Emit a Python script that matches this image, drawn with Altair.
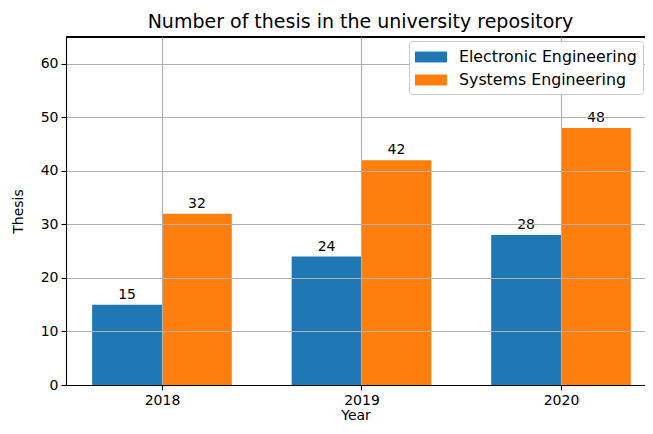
import json
import altair as alt
import pandas as pd

years = ["2018", "2019", "2020"]
programs = ["Electronic Engineering", "Systems Engineering"]
electronic = [15, 24, 28]
systems = [32, 42, 48]
colors = ["#1f77b4", "#ff7f0e"]
bar_w = 0.35

rows = []
for i, y in enumerate(years):
    rows.append({"year": y, "program": programs[0], "value": electronic[i],
                 "x0": i - bar_w, "x1": i, "xc": i - bar_w / 2, "base": 0})
    rows.append({"year": y, "program": programs[1], "value": systems[i],
                 "x0": i, "x1": i + bar_w, "xc": i + bar_w / 2, "base": 0})
df = pd.DataFrame(rows)

FONT = "DejaVu Sans"
W, H = 579, 348

xscale = alt.Scale(domain=[-0.481, 2.421], nice=False, zero=False)
yscale = alt.Scale(domain=[0, 65], nice=False)

label_expr = json.dumps(years) + "[datum.value]"

xaxis = alt.Axis(values=[0, 1, 2], labelExpr=label_expr, title="Year",
                 grid=True, zindex=1)
yaxis = alt.Axis(values=[0, 10, 20, 30, 40, 50, 60], title="Thesis",
                 grid=True, zindex=1)

legend = alt.Legend(
    title=None, orient="none", legendX=343, legendY=4, zindex=2,
    symbolType="M-1.6,-0.545L1.6,-0.545L1.6,0.545L-1.6,0.545Z", symbolSize=400,
    symbolOffset=6, symbolStrokeWidth=0, symbolOpacity=1,
    labelFontSize=15.8, labelFont=FONT, labelColor="#000000", labelLimit=400,
    fillColor="white", strokeColor="#cccccc", cornerRadius=3,
    padding=6, rowPadding=5, labelOffset=18,
)

bars = alt.Chart(df).mark_bar().encode(
    x=alt.X("x0:Q", scale=xscale, axis=xaxis),
    x2="x1:Q",
    y=alt.Y("value:Q", scale=yscale, axis=yaxis),
    y2="base:Q",
    color=alt.Color("program:N", scale=alt.Scale(domain=programs, range=colors),
                    legend=legend),
)

labels = alt.Chart(df).mark_text(
    baseline="bottom", dy=-3, fontSize=14, font=FONT, color="#000000"
).encode(
    x=alt.X("xc:Q", scale=xscale),
    y=alt.Y("value:Q", scale=yscale),
    text="value:Q",
)

top_spine = alt.Chart(df).mark_rule(color="#000000", strokeWidth=1.1).encode(
    x=alt.value(0), x2=alt.value(W), y=alt.value(0)
)

chart = alt.layer(bars, labels, top_spine).properties(
    width=W, height=H,
    title=alt.TitleParams("Number of thesis in the university repository",
                          fontSize=19, font=FONT, fontWeight="normal",
                          color="#000000", anchor="middle", frame="group",
                          dx=5, offset=4.5),
    autosize=alt.AutoSizeParams(type="none"),
    padding={"left": 58, "top": 29, "right": 0, "bottom": 37},
).configure_view(stroke=None).configure_axis(
    labelFont=FONT, labelFontSize=14, labelColor="#000000",
    titleFont=FONT, titleFontSize=14, titleColor="#000000", titleFontWeight="normal",
    domainColor="#000000", domainWidth=1.1,
    tickColor="#000000", tickSize=5, tickWidth=1.1, labelPadding=3,
    gridColor="#b0b0b0", gridWidth=1.1,
).configure_axisX(titlePadding=1).configure_axisY(titlePadding=15)

chart.save("out.html", embed_options={"renderer": "svg", "actions": False})
